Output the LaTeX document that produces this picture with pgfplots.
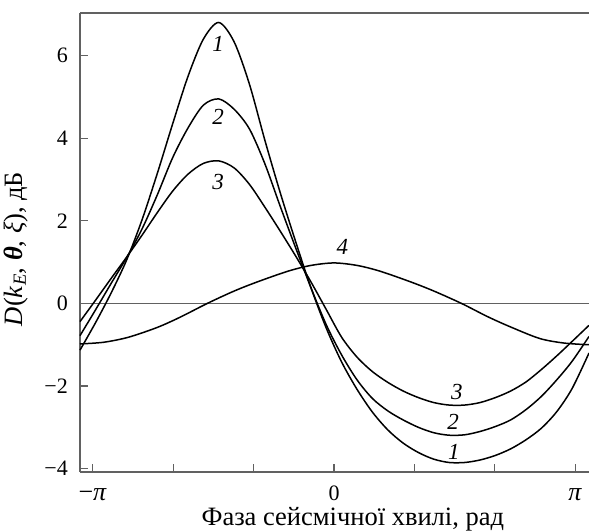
\documentclass[border=0pt]{standalone}
\usepackage{fontspec}
\setmainfont{Liberation Serif}
\usepackage{pgfplots}
\pgfplotsset{compat=1.18}
\begin{document}
\begin{tikzpicture}
\path[use as bounding box] (-80pt,-60pt) rectangle (509pt,472pt);
\begin{axis}[
  at={(0,0)}, anchor=south west,
  scale only axis, width=509pt, height=459pt,
  xmin=-3.307, xmax=3.32, ymin=-4.08, ymax=7.03,
  axis x line=box, axis y line=left,
  axis line style={-, draw=black!62, line width=1.4pt},
  xtick pos=bottom, ytick pos=left,
  tick align=inside, major tick length=8pt,
  tick style={draw=black!62, line width=1.2pt},
  xtick={-3.14159,-2.0944,-1.0472,0,1.0472,2.0944,3.14159},
  xticklabels={{\fontsize{26}{30}\selectfont −\textit{π}},,,0,,,{\fontsize{26}{30}\selectfont\textit{π}}},
  ytick={-4,-2,0,2,4,6},
  yticklabels={−4,−2,0,2,4,6},
  tick label style={font=\fontsize{22}{26}\selectfont},
  xticklabel style={anchor=base, inner sep=0pt, yshift=-29pt},
  yticklabel style={anchor=east, inner sep=0pt, xshift=-12pt},
  label style={font=\fontsize{26.5}{31}\selectfont},
  xlabel={Фаза сейсмічної хвилі, рад},
  xlabel style={at={(axis description cs:0.536,0)}, anchor=base, inner sep=0pt, yshift=-54pt},
  ylabel={\textit{D}(\textit{k}\textsubscript{\textit{E}}, \textbf{\textit{θ}}, \textit{ξ}), дБ},
  ylabel style={at={(axis description cs:0,0.486)}, anchor=south, inner sep=0pt, yshift=52pt},
  clip=false,
]
% zero line
\addplot[black!62, line width=1.4pt, no markers] coordinates {(-3.307,0) (3.32,0)};
% curve 1
\addplot[black, line width=1.5pt, smooth, no markers] coordinates {(-3.307,-1.13) (-3.1,-0.45) (-2.9,0.26) (-2.7,1.05) (-2.5,2.02) (-2.3,3.15) (-2.1,4.35) (-1.9,5.5) (-1.7,6.4) (-1.5,6.80) (-1.3,6.33) (-1.1,5.3) (-0.9,3.95) (-0.7,2.68) (-0.5,1.5) (-0.3,0.38) (-0.1,-0.6) (0.1,-1.42) (0.3,-2.08) (0.5,-2.63) (0.7,-3.06) (0.9,-3.38) (1.1,-3.61) (1.3,-3.77) (1.5,-3.85) (1.7,-3.85) (1.9,-3.79) (2.1,-3.68) (2.3,-3.52) (2.5,-3.3) (2.7,-3.02) (2.9,-2.62) (3.1,-2.06) (3.32,-1.2)};
% curve 2
\addplot[black, line width=1.5pt, smooth, no markers] coordinates {(-3.307,-0.78) (-3.1,-0.14) (-2.9,0.49) (-2.7,1.11) (-2.5,1.8) (-2.3,2.63) (-2.1,3.53) (-1.9,4.25) (-1.7,4.8) (-1.5,4.95) (-1.3,4.7) (-1.1,4.22) (-0.9,3.38) (-0.7,2.35) (-0.5,1.35) (-0.3,0.38) (-0.1,-0.52) (0.1,-1.25) (0.3,-1.85) (0.5,-2.3) (0.7,-2.6) (0.9,-2.82) (1.1,-3.0) (1.3,-3.13) (1.5,-3.19) (1.7,-3.18) (1.9,-3.1) (2.1,-2.98) (2.3,-2.82) (2.5,-2.57) (2.7,-2.25) (2.9,-1.85) (3.1,-1.4) (3.32,-0.8)};
% curve 3
\addplot[black, line width=1.5pt, smooth, no markers] coordinates {(-3.307,-0.44) (-3.1,0.09) (-2.9,0.61) (-2.7,1.12) (-2.5,1.65) (-2.3,2.2) (-2.1,2.72) (-1.9,3.13) (-1.7,3.39) (-1.5,3.45) (-1.3,3.28) (-1.1,2.88) (-0.9,2.33) (-0.7,1.75) (-0.5,1.15) (-0.3,0.52) (-0.1,-0.15) (0.1,-0.82) (0.3,-1.3) (0.5,-1.65) (0.7,-1.91) (0.9,-2.12) (1.1,-2.28) (1.3,-2.4) (1.5,-2.46) (1.7,-2.46) (1.9,-2.4) (2.1,-2.28) (2.3,-2.12) (2.5,-1.9) (2.7,-1.6) (2.9,-1.27) (3.1,-0.92) (3.32,-0.53)};
% curve 4
\addplot[black, line width=1.5pt, smooth, no markers] coordinates {(-3.307,-0.98) (-3.0,-0.94) (-2.68,-0.82) (-2.3,-0.58) (-2.0,-0.33) (-1.65,0) (-1.3,0.3) (-1.0,0.52) (-0.6,0.78) (-0.3,0.92) (0,0.98) (0.3,0.92) (0.6,0.78) (1.0,0.52) (1.3,0.3) (1.66,0) (2.0,-0.32) (2.3,-0.57) (2.68,-0.85) (3.0,-0.96) (3.32,-1.0)};
\begin{scope}[every node/.style={font=\itshape\fontsize{23}{27}\selectfont, inner sep=0pt}]
\node at (axis cs:-1.51,6.29) {1};
\node at (axis cs:-1.51,4.52) {2};
\node at (axis cs:-1.51,2.94) {3};
\node at (axis cs:0.11,1.37) {4};
\node at (axis cs:1.60,-2.14) {3};
\node at (axis cs:1.55,-2.87) {2};
\node at (axis cs:1.56,-3.59) {1};
\end{scope}
\end{axis}
\end{tikzpicture}
\end{document}
